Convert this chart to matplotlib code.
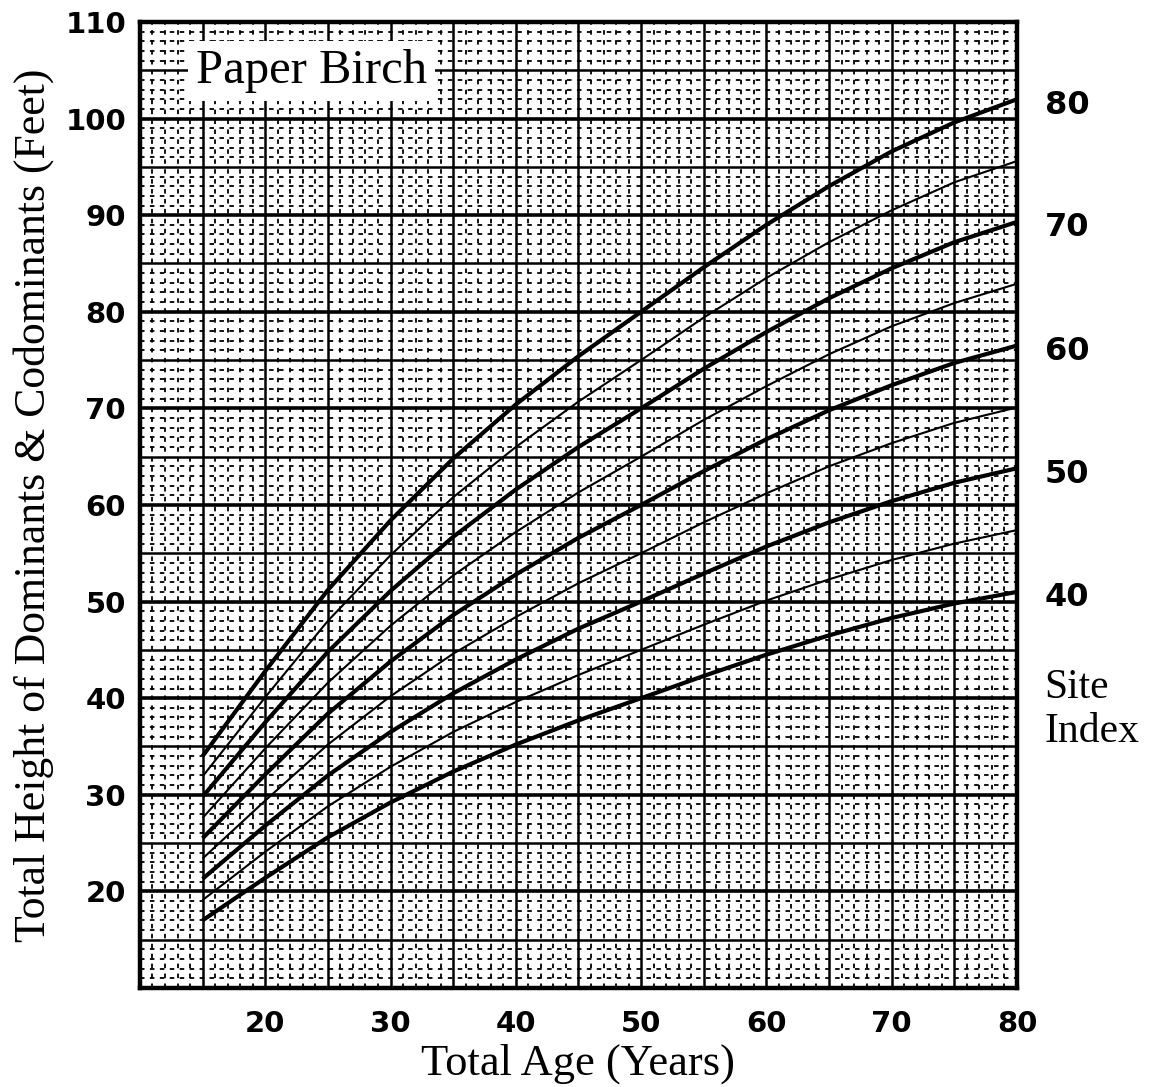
import numpy as np
import matplotlib.pyplot as plt

# ages (every 5 years, 15..80)
ages = [15, 20, 25, 30, 35, 40, 45, 50, 55, 60, 65, 70, 75, 80]

# height (feet) of each site index curve, read at each age
si40 = [17.0, 21.4, 25.6, 29.2, 32.4, 35.2, 37.7, 40.0, 42.3, 44.5, 46.5, 48.3, 49.8, 51.0]
si45 = [19.1, 24.1, 28.8, 32.9, 36.5, 39.6, 42.4, 45.0, 47.6, 50.1, 52.3, 54.3, 56.0, 57.4]
si50 = [21.3, 26.8, 32.0, 36.5, 40.5, 44.0, 47.2, 50.0, 52.9, 55.7, 58.2, 60.4, 62.3, 63.8]
si55 = [23.4, 29.4, 35.2, 40.2, 44.6, 48.4, 51.9, 55.0, 58.2, 61.2, 64.0, 66.4, 68.5, 70.1]
si60 = [25.5, 32.1, 38.4, 43.8, 48.6, 52.8, 56.6, 60.0, 63.5, 66.8, 69.8, 72.4, 74.7, 76.5]
si65 = [27.6, 34.8, 41.6, 47.5, 52.7, 57.2, 61.3, 65.0, 68.8, 72.3, 75.6, 78.5, 80.9, 82.9]
si70 = [29.8, 37.5, 44.8, 51.1, 56.7, 61.6, 66.0, 70.0, 74.1, 77.9, 81.4, 84.5, 87.2, 89.3]
si75 = [31.9, 40.1, 48.0, 54.8, 60.8, 66.0, 70.7, 75.0, 79.4, 83.5, 87.2, 90.5, 93.4, 95.6]
si80 = [34.0, 42.8, 51.2, 58.4, 64.8, 70.4, 75.4, 80.0, 84.6, 89.0, 93.0, 96.6, 99.6, 102.0]

curves = [(40, si40), (45, si45), (50, si50), (55, si55), (60, si60),
          (65, si65), (70, si70), (75, si75), (80, si80)]
labelled = [80, 70, 60, 50, 40]

xticks = [20, 30, 40, 50, 60, 70, 80]
yticks = [20, 30, 40, 50, 60, 70, 80, 90, 100, 110]

fig = plt.figure(figsize=(11.5, 10.87), dpi=100)
ax = fig.add_axes([0.1217, 0.0911, 0.7626, 0.8887])
ax.set_xlim(10, 80)
ax.set_ylim(10, 110)

# graph paper: dashed every 1, solid every 5, heavier every 10 (horizontal)
dash = (0, (2.5, 3))
for v in range(11, 80):
    if v % 5 == 0:
        ax.axvline(v, color="black", lw=1.8, zorder=1)
    else:
        ax.axvline(v, color="black", lw=1.3, ls=dash, zorder=1)
for h in range(11, 110):
    if h % 10 == 0:
        ax.axhline(h, color="black", lw=2.6, zorder=1)
    elif h % 5 == 0:
        ax.axhline(h, color="black", lw=1.8, zorder=1)
    else:
        ax.axhline(h, color="black", lw=1.3, ls=dash, zorder=1)

# site index curves
for si, h in curves:
    lw = 3.0 if si % 10 == 0 else 1.5
    ax.plot(ages, h, color="black", lw=lw, solid_capstyle="butt", zorder=3)
    if si in labelled:
        ax.text(82.2, h[-1] - 0.6, str(si), fontsize=23, fontweight="bold",
                ha="left", va="center", clip_on=False)

ax.text(82.2, 38.8, "Site\nIndex", fontsize=30, family="Liberation Serif",
        ha="left", va="center", linespacing=1.2, clip_on=False)

ax.text(23.7, 104.9, "Paper Birch", fontsize=35, family="Liberation Serif",
        ha="center", va="center", zorder=5,
        bbox=dict(facecolor="white", edgecolor="none", pad=6))

ax.set_xticks(xticks)
ax.set_yticks(yticks)
ax.tick_params(axis="y", length=0, labelsize=21, pad=10)
ax.tick_params(axis="x", length=0, labelsize=21, pad=16)
for lab in ax.get_xticklabels() + ax.get_yticklabels():
    lab.set_fontweight("bold")
for sp in ax.spines.values():
    sp.set_linewidth(3.2)
    sp.set_zorder(6)

ax.set_xlabel("Total Age (Years)", fontsize=32, family="Liberation Serif", labelpad=4)
ax.set_ylabel("Total Height of Dominants & Codominants (Feet)", fontsize=31.5,
              family="Liberation Serif", labelpad=8)

fig.savefig("out.png", dpi=100)
